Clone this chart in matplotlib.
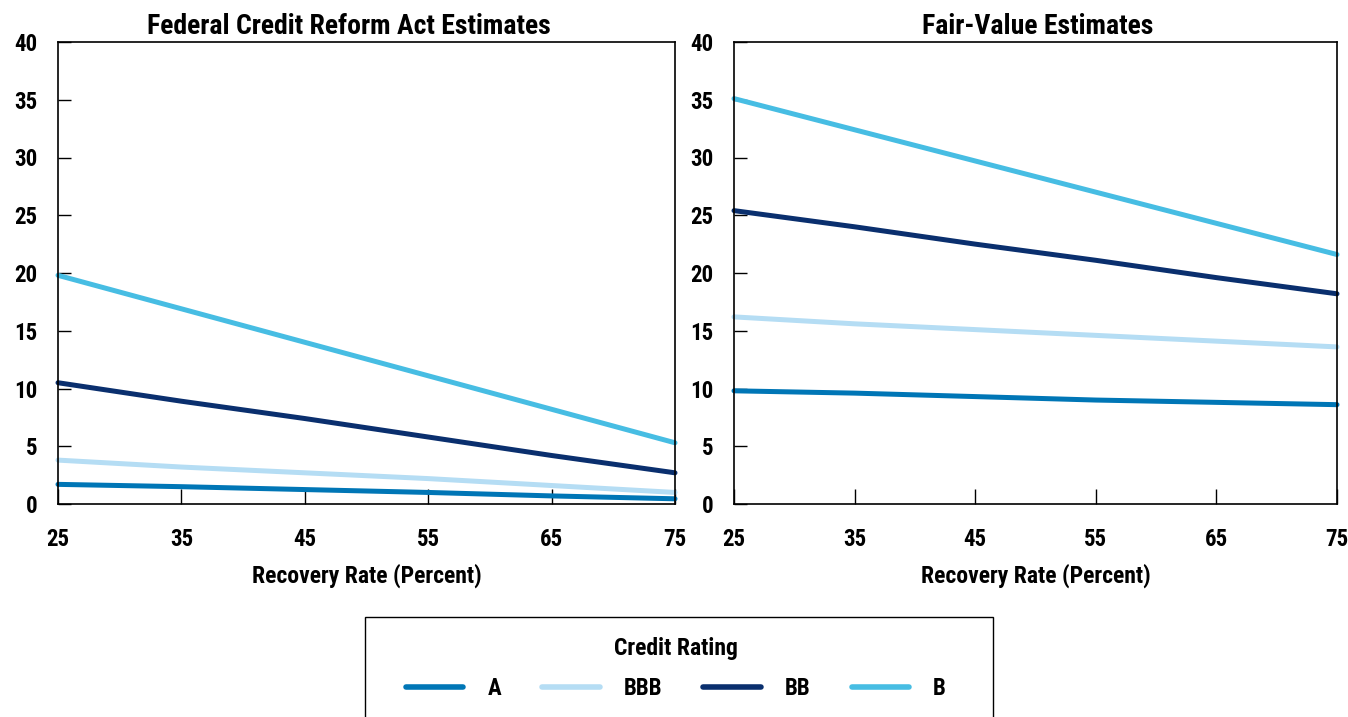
import matplotlib
matplotlib.use("Agg")
import matplotlib.pyplot as plt
from matplotlib.lines import Line2D
from matplotlib.patches import Rectangle
from matplotlib import font_manager

names = {f.name for f in font_manager.fontManager.ttflist}
fam = ['Liberation Sans Narrow', 'Roboto Condensed', 'DejaVu Sans']
fam = [f for f in fam if f in names] or ['DejaVu Sans']
plt.rcParams['font.family'] = fam
plt.rcParams['font.weight'] = 'bold'

recovery = [25, 35, 45, 55, 65, 75]
ratings = ['A', 'BBB', 'BB', 'B']
colors = ['#0076B6', '#B5DDF4', '#0A2F6E', '#47BDE3']

fcra_A = [1.7, 1.5, 1.25, 1.0, 0.7, 0.45]
fcra_BBB = [3.8, 3.2, 2.7, 2.2, 1.6, 1.0]
fcra_BB = [10.5, 8.9, 7.4, 5.8, 4.2, 2.7]
fcra_B = [19.8, 16.9, 14.0, 11.1, 8.2, 5.3]

fv_A = [9.8, 9.6, 9.3, 9.0, 8.8, 8.6]
fv_BBB = [16.2, 15.6, 15.1, 14.6, 14.1, 13.6]
fv_BB = [25.4, 24.0, 22.5, 21.1, 19.6, 18.2]
fv_B = [35.1, 32.4, 29.7, 27.0, 24.3, 21.6]

titles = ['Federal Credit Reform Act Estimates', 'Fair-Value Estimates']
xlabel = 'Recovery Rate (Percent)'
legend_title = 'Credit Rating'
yticks = [0, 5, 10, 15, 20, 25, 30, 35, 40]
xticks = [25, 35, 45, 55, 65, 75]

panels = [[fcra_A, fcra_BBB, fcra_BB, fcra_B], [fv_A, fv_BBB, fv_BB, fv_B]]

W, H = 1348, 717
fig = plt.figure(figsize=(W / 100, H / 100), dpi=100)
rects = [(58, 675), (734, 1337)]
title_x = [0.471, 0.503]
top, bottom = 42, 504
for (x0, x1), series, title, tx in zip(rects, panels, titles, title_x):
    ax = fig.add_axes([x0 / W, 1 - bottom / H, (x1 - x0) / W, (bottom - top) / H])
    for vals, c, lab in zip(series, colors, ratings):
        ax.plot(recovery, vals, color=c, lw=3.6, label=lab, solid_capstyle='round', clip_on=False)
    ax.set_xlim(25, 75)
    ax.set_ylim(0, 40)
    ax.set_xticks(xticks)
    ax.set_yticks(yticks)
    ax.tick_params(axis='y', direction='in', length=9, width=1, pad=15, labelsize=16.5)
    ax.tick_params(axis='x', direction='in', length=11, width=1, pad=17, labelsize=16.5)
    for s in ax.spines.values():
        s.set_linewidth(1.2)
    ax.set_title(title, fontsize=20, fontweight='bold', pad=6, x=tx)
    ax.set_xlabel(xlabel, fontsize=17, fontweight='bold', labelpad=9)

# legend frame (bottom runs off the figure, as in the reference)
fig.patches.append(Rectangle((365 / W, -0.05), (993 - 365) / W, 0.05 + 1 - 617 / H,
                             transform=fig.transFigure, fill=False, edgecolor='black',
                             linewidth=1.0, figure=fig))

handles = [Line2D([], [], color=c, lw=4, solid_capstyle='round') for c in colors]
leg = fig.legend(handles, ratings, loc='upper center', bbox_to_anchor=(676 / W, 1 - 637 / H),
                 ncol=4, title=legend_title, frameon=False, fontsize=16.5,
                 title_fontproperties={'weight': 'bold', 'size': 17},
                 handlelength=2.5, handletextpad=1.05, columnspacing=1.8, borderpad=0.0,
                 labelspacing=0.75, borderaxespad=0)
fig.savefig('out.png', dpi=100)
